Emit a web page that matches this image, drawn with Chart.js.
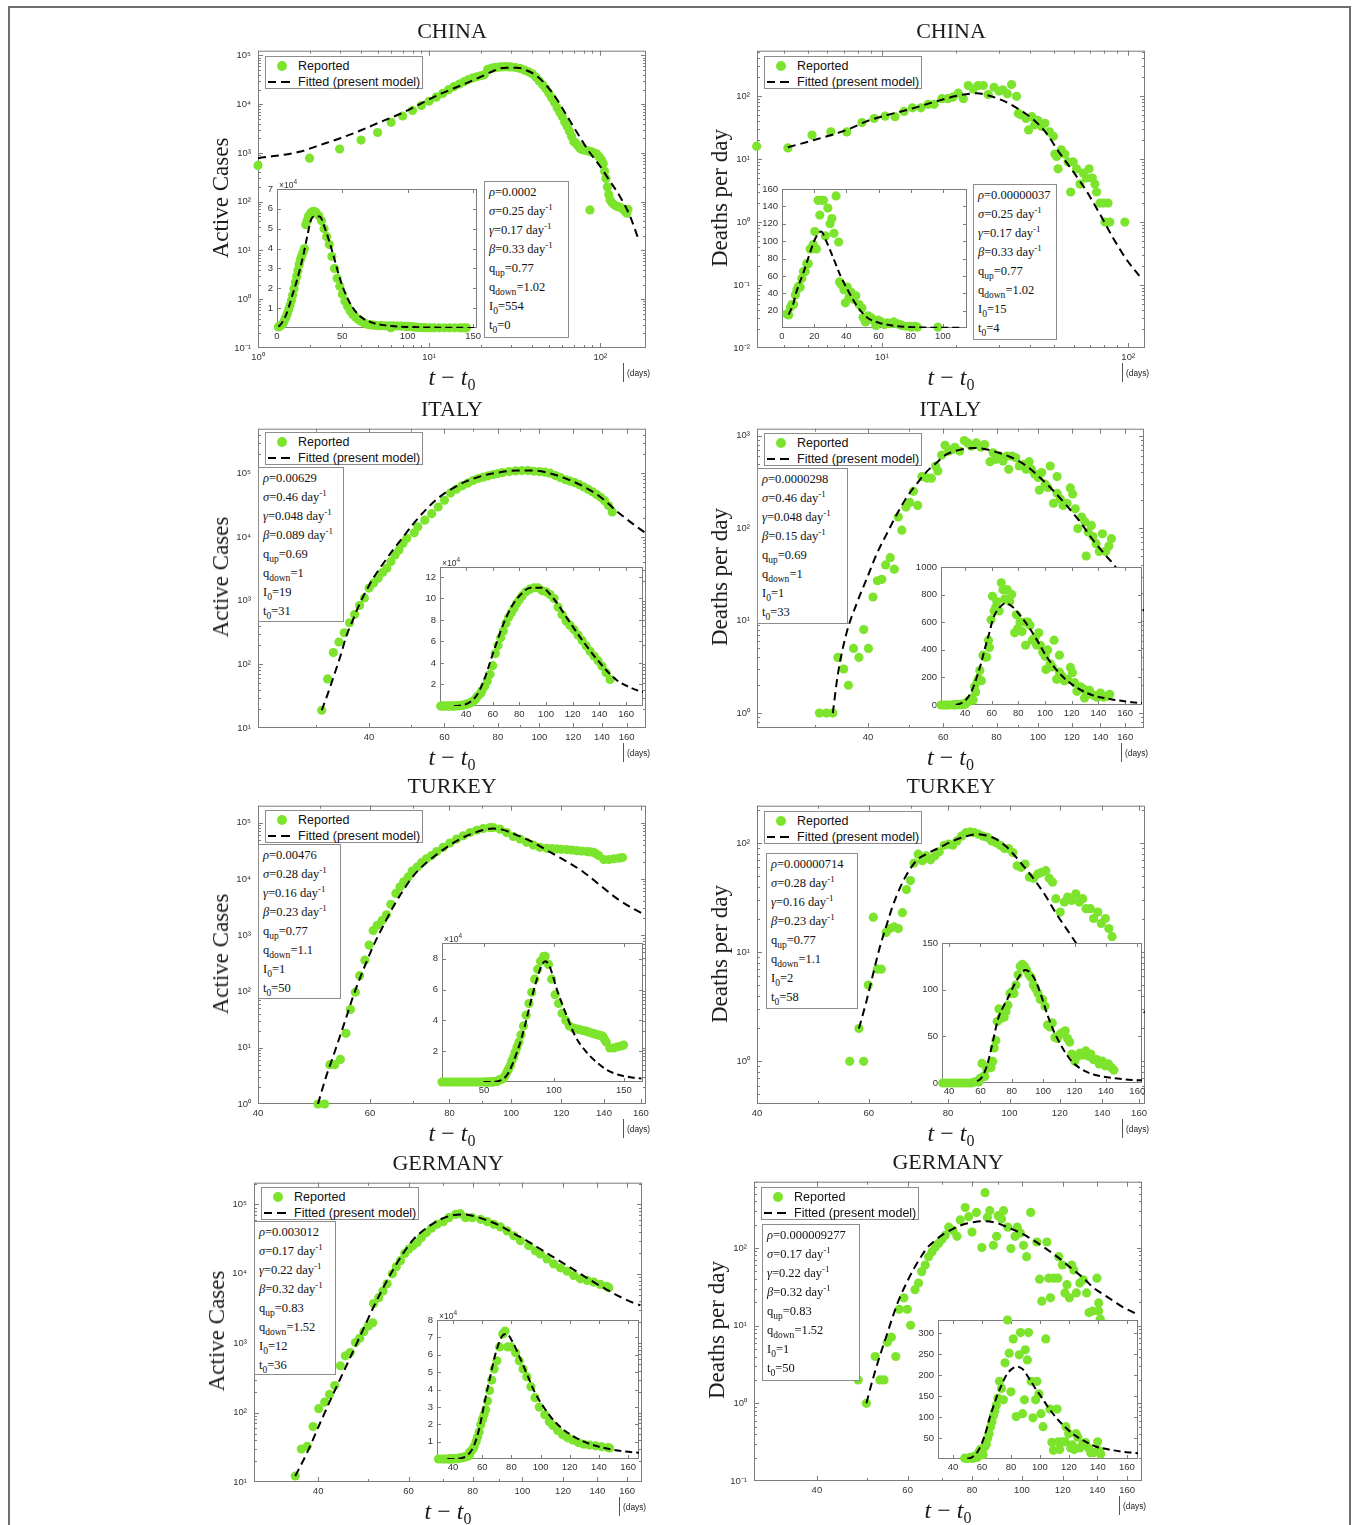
<!DOCTYPE html>
<html>
<head>
<meta charset="utf-8">
<title>Reported vs fitted: China, Italy, Turkey, Germany</title>
<script src="https://cdn.jsdelivr.net/npm/chart.js"></script>
<style>
  body { margin: 0; background: #fff; }
  #page { position: relative; width: 1356px; height: 1525px; overflow: hidden; }
  #frame { position: absolute; left: 8px; top: 6px; width: 1343px; height: 1560px; border: 2px solid #6e6e6e; box-sizing: border-box; }
  canvas { position: absolute; }
  .txt { position: absolute; transform: translate(-50%, -50%); white-space: nowrap; color: #1c1c1c; font-family: 'Liberation Serif', 'Times New Roman', serif; }
  .ttl { font-size: 22px; }
  .ylab { font-size: 23px; transform: translate(-50%, -50%) rotate(-90deg); }
  .xlab { font-size: 24px; }
  .xlab sub { font-size: 16px; font-style: normal; vertical-align: -5px; line-height: 0; }
  .legend { position: absolute; width: 158px; height: 33px; background: #fff; border: 1px solid #8c8c8c; box-sizing: border-box; font: 12.5px 'Liberation Sans', Arial, sans-serif; color: #111; }
  .legend .dot { position: absolute; left: 11px; top: 4px; width: 10px; height: 10px; border-radius: 50%; }
  .legend .dash { position: absolute; top: 24px; width: 8px; height: 2px; background: #000; }
  .legend .lt { position: absolute; left: 32px; line-height: 14px; }
  .params { position: absolute; background: #fff; border: 1px solid #8c8c8c; box-sizing: border-box; padding: 1px 0 0 4px; font: 12.5px 'Liberation Serif', 'Times New Roman', serif; line-height: 19px; color: #111; white-space: nowrap; }
  .params div { height: 19px; }
  .params sub { font-size: 9.5px; vertical-align: -4px; line-height: 0; }
  .params sup { font-size: 9px; vertical-align: 5px; line-height: 0; }
  .days { position: absolute; font: 8.3px 'Liberation Sans', Arial, sans-serif; color: #222; transform: translateY(-50%); }
  .vbar { position: absolute; width: 1px; height: 19px; background: #555; }
  .expo { position: absolute; font: 8.5px 'Liberation Sans', Arial, sans-serif; color: #333; transform: translateY(-50%); }
</style>
</head>
<body>
<div id="page"><div id="frame"></div></div>
<script>
// ---------- data ----------
// China, active cases
const chinaCasesDay = [1,2,3,4,5,6,7,8,9,10,11,12,13,14,15,16,17,18,19,20,21,22,23,24,25,26,27,28,29,30,32,34,36,38,40,42,44,46,48,50,52,54,56,58,60,62,64,66,68,70,72,74,76,78,80,83,86,89,92,95,98,100,102,104,106,108,110,112,114,117,120,124,128,132,136,140,143,145,87];
const chinaCasesVal = [554,780,1205,1836,2624,4250,5720,7450,9400,11500,13900,16600,19800,23000,25900,28900,32000,34600,36500,38300,40000,52000,54000,56000,57000,58000,58500,58800,58500,58000,56500,54000,50000,46000,42000,36000,30000,25000,21000,17000,13500,11000,8500,6800,5500,4300,3500,2800,2200,1700,1600,1400,1250,1180,1150,1120,1090,1050,1000,960,850,780,700,600,420,300,200,140,110,95,88,82,78,75,70,62,58,70,68];
const chinaCasesFitDay = [1,1.75,2.3,3,4,5.2,6.8,8.9,11.6,15.2,20,23.7,26,28.5,32.6,37,42.5,48.6,55.6,63.6,72.8,80,87.4,100,114,130,149,167];
const chinaCasesFitVal = [780,1060,1450,1980,2920,4320,6370,10200,16200,23900,36300,48000,54500,56200,56200,49600,38100,23900,12800,5890,2700,1570,985,528,262,130,51,17.2];
const chinaCasesParams = ['0.0002','0.25','0.17','0.33','0.77','1.02','554','0'];

// China, deaths per day
const chinaDeathDay = [3.1,4.15,5.2,6.2,7.2,8.3,9.3,10.3,11.3,12.3,13.3,14.4,15.4,16.3,17.5,18.5,19.4,20.4,21.4,22.4,23.5,24.6,25.8,27,28.5,29.9,31,32.3,33.6,35.2,35.8,36.9,38.5,39.4,40.6,41.7,43,44.5,45.9,47.9,49.7,50.4,51.2,51.9,53.5,55.3,57,58.4,59.8,61.7,63.7,65.6,67.7,69.4,71.5,73.2,74.4,76.8,79.4,82.8,80.5,84.2,96.9];
const chinaDeathVal = [16,15,24,27,27,38,44,48,47,57,65,65,74,74,91,91,96,111,91,147,130,147,147,106,138,120,126,109,152,99,53,50,44,29,47,35,41,33,37,27,23,12,11,7,14,12,9,3,9,7,4,6,5,7,5,4,3,2,2,2,1,1,1];
const chinaDeathFitDay = [4.15,5.2,7.2,8.7,10.5,13,16.2,20.7,24.3,27.5,32,36.4,41.2,46.6,52.7,59.8,67.7,76.8,86.8,98,111];
const chinaDeathFitVal = [15.4,19.6,29,40,50,62,80,103,111,100,80,60,42.5,25.5,12.4,6.3,3.1,1.33,0.56,0.26,0.14];
const chinaDeathParams = ['0.00000037','0.25','0.17','0.33','0.77','1.02','15','4'];

// Italy, active cases
const italyCasesDay = [21,22,23,24,25,26,27,28,29,30,31,32,33,34,35,36,37,38,39,40,41,42,43,44,45,46,47,48,49,51,52,54,56,58,60,62,64,66,68,70,72,74,76,78,80,82,85,88,91,94,97,100,103,106,109,112,115,118,121,124,127,130,133,136,139,142,145,148];
const italyCasesVal = [0,0,0,0,0,0,0,0,0,0,19,59,153,224,313,449,605,836,1100,1575,1885,2250,2765,3230,4100,5210,6240,7940,9490,11600,14400,18300,23200,29500,37500,48800,56200,63500,69800,76900,82600,86700,90900,95300,98800,102400,106200,108700,110000,110000,107400,106200,103700,100000,92000,85000,79000,75000,71000,66000,61000,56000,51000,46500,42000,37000,31000,24700];
const italyCasesFitDay = [31,31.9,33.1,34.3,35.4,36.7,38.1,39.5,40.9,43.2,45.5,48.1,50.8,54.6,58.7,63,67.6,74,81,88.6,96.8,105.6,115.8,126.7,138.9,152.4,166.9,177.5];
const italyCasesFitVal = [19,32,66,136,278,505,920,1480,2250,3860,6240,10070,16200,27800,43300,59000,75000,92000,103700,110000,110000,100000,81600,62000,42300,24700,15300,11350];
const italyCasesParams = ['0.00629','0.46','0.048','0.089','0.69','1','19','31'];

// Italy, deaths per day
const italyDeathDay = [22,24,26,28,30.8,32,33.1,34,35.1,36,37,38.1,39.1,40.1,41.1,42.1,43.1,44,45.1,46.1,47.1,48,49.1,50.1,51.1,52.3,53.5,55,56.3,57.6,58.3,59.5,60.6,61.8,63,63.9,65.6,67.2,68.5,69.8,71.7,73.5,75,77.2,78.5,79.6,81.2,82.8,84.5,85.4,87,88.7,90.4,92.6,93.8,95.3,96.5,98.3,100.1,100.7,102,103.9,105.4,106.8,108.7,110.8,110.8,112.8,114.4,116.9,119,120.5,122.2,123.9,126.5,128.7,129.6,131,133.3,134.4,136.7,139.1,141.5,144,146.5,148.5];
const italyDeathVal = [0,0,0,0,1,1,1,4,3,2,5,4,8,5,18,27,28,40,48,36,132,95,169,190,250,176,361,347,347,470,416,617,788,681,708,750,681,885,836,769,836,750,801,523,654,554,601,532,601,433,601,577,470,489,433,523,433,383,353,258,399,299,276,470,186,238,361,207,176,186,272,234,162,99,132,117,50,91,107,81,68,56,87,56,64,77];
const italyDeathFitDay = [33.1,34,35.6,37.7,39.8,42,44.3,46.8,49.3,52.1,54.9,57.9,61.1,66,70.5,76,81,87,94,101,108.6,116.6,125.4,134.6,145,151.6,165,177];
const italyDeathFitVal = [1,2.6,7.2,15.6,28.9,53.5,87.5,143,216,304,409,511,627,708,738,708,653,577,470,353,254,176,117,74,49,38.5,20,12.7];
const italyDeathParams = ['0.0000298','0.46','0.048','0.15','0.69','1','1','33'];

// Turkey, active cases
const turkeyCasesDay = [20,22,24,26,28,30,32,34,36,38,40,42,44,46,48,49.7,50.9,51.9,52.8,53.9,55,55.9,56.9,57.8,58.9,59.8,60.7,61.6,62.7,63.7,64.7,65.9,66.9,67.8,68.9,69.9,71.2,72.3,73.6,75,76.4,78.2,80.1,82.1,84.1,86.2,88.3,90.4,92.6,93.7,96.1,98.4,100.8,103.3,105.8,108.4,111,113.8,116,118,120,122.4,124.6,126.9,129.2,131.6,133.2,134.8,136,137.3,139.9,142.5,145.1,147.9,149.7];
const turkeyCasesVal = [0,0,0,0,0,0,0,0,0,0,0,0,0,0,0,1,1,5,5,6.2,18,47.6,97,191,360,668,1208,1497,1832,2305,3545,5530,7240,8860,10830,13800,16200,19400,22800,26000,30600,36400,43400,51000,58300,66800,73300,78500,81600,81600,76400,66800,56700,51000,44600,40000,36400,35000,34500,34100,33600,33200,32500,31800,31200,30600,30200,29800,28000,26000,22100,22100,22800,23400,24000];
const turkeyCasesFitDay = [49.7,51.2,52.5,53.8,55.1,56.4,57.8,59.2,60.7,62.9,65.3,67.7,70.2,72.8,75.4,79.2,83.1,87.2,91.5,93.8,97.2,102.1,108.4,115.2,122.3,129.9,138,146.6,155.8,162.5];
const turkeyCasesFitVal = [1,3.1,7,15.8,35.5,79.5,167,327,641,1440,3230,6310,11300,17400,24300,36400,51000,65000,76400,78500,74300,60000,44600,29800,20400,13300,7740,4520,2940,2300];
const turkeyCasesParams = ['0.00476','0.28','0.16','0.23','0.77','1.1','1','50'];

// Turkey, deaths per day
const turkeyDeathDay = [36,38,40,42,44,46,48,50,52,54,56,58.9,57.9,59.9,61,61.9,62.8,63.9,64.8,65.8,66.8,67.8,68.8,69.8,70.7,71.8,72.9,73.9,75.1,76.3,77.5,78.9,80.2,81.4,82.6,84,85.4,86.7,88,89.4,90.9,92.3,93.7,95.2,96.7,98.2,99.6,101.2,102.8,104.3,105.8,107.5,109.1,110.8,112.4,114.1,115.5,116.9,118.3,120.2,122,123.5,125.3,127.2,128.8,130.4,132,134.1,135.7,137.8,139.5,141.6,143.4,145.1];
const turkeyDeathVal = [0,0,0,0,0,0,0,0,0,0,1,1,2,5,21,7,7,15.2,16.5,17.1,16.5,23.1,37.6,45.5,65.8,79.4,69.2,76.7,70.5,76.7,83.4,95.9,98,95.9,105,116,125,127,125,121,116,113,105,101,95.9,89.5,89.5,82.2,62.2,60.1,64.4,48.8,47.7,52.3,54.1,56,47.7,43.9,31,23.4,28.9,32.1,29.9,34.4,28.9,31,25.1,25.1,20.4,23.4,18.4,20.4,16.5,13.9];
const turkeyDeathFitDay = [57.9,59.5,60.9,62.4,64,65.5,67.1,68.8,71.3,73.9,77.6,81.5,85.5,88.6,91.9,95.3,98.8,102.5,106.3,110.2,114.3,118.5,122.9,127.4,132.1,138.7,147.3,156.5,163.3];
const turkeyDeathFitVal = [2,3.56,6.2,10.9,17.7,26.9,38.2,51.2,69,79.4,91.4,105,116,121,118,109,93.3,74.1,57.3,43.9,32.1,22.6,16.5,12.1,9.1,6.7,4.7,3.3,2.8];
const turkeyDeathParams = ['0.00000714','0.28','0.16','0.23','0.77','1.1','2','58'];

// Germany, active cases
const germanyCasesDay = [30,32,34,36.1,37.1,38.1,39.1,40.1,41.2,42.1,43.1,44.2,45.2,46.2,47.3,48.2,49.1,50.1,51.1,51.3,52.5,53.5,54.5,55.8,56.8,57.9,59,60.1,61.2,62.4,63.6,65,66.5,68.2,70.1,71.9,74.1,75.7,77.5,79.8,82.9,85.4,88,90.6,93.4,96.2,99.1,102.9,106,108.4,111.7,115.1,118.6,122.2,125.9,129.7,133.7,137.7,141.9,146.2,147.3];
const germanyCasesVal = [0,0,0,12.2,29.9,32.7,63,114,142,183,245,474,659,735,1023,1178,1467,1770,1973,3728,4540,5650,7190,10000,12700,15500,19700,22800,25400,28300,33400,39400,45400,51800,56500,64500,71900,73600,64500,64500,61100,56500,51800,47400,41600,35300,29900,25400,21500,19300,16400,13900,12200,10900,9460,8490,8040,7600,7040,6590,6310];
const germanyCasesFitDay = [36.1,38.1,40.4,42.9,45.6,48.4,51.3,54.5,57.9,61.4,65.2,69.3,73.5,76.9,80.4,85.4,90.6,96.2,102.1,108.4,115.1,122.2,129.7,137.7,146.2,155.3,164.8,169.8];
const germanyCasesFitVal = [12.2,26.8,72,193,507,1316,3340,8040,17300,31600,46400,61100,70500,71900,68100,59100,49000,38100,29900,22800,17300,13200,10000,7600,5900,4640,3810,3530];
const germanyCasesParams = ['0.003012','0.17','0.22','0.32','0.83','1.52','12','36'];

// Germany, deaths per day
const germanyDeathDay = [48.1,49.9,51.9,53,54,54.8,55.8,56.9,57.8,59,59.9,60.8,62,63,63.9,64.9,65.9,66.9,67.9,68.9,69.9,71,72.1,73.5,74.8,75.9,77.6,78.8,80,81.6,83.6,84.8,85.7,86.6,88,89.3,89.9,91.3,92.1,93.9,95.2,97,97.9,99.3,100.7,102.1,104,106.9,108.2,109.3,111.8,112.7,113.6,115.3,117.4,117.9,119.8,121.2,122.3,123.6,124.9,126.1,127.5,129.5,131.5,133.5,135,137.1,139.8,140.9,140.9,141.9];
const germanyDeathVal = [2,1,4,2,2,6.1,7.1,4,16.2,22.8,16.2,10.1,29,35.3,49.5,60.2,76.9,89,103,114,128,145,185,168,141,229,331,252,160,286,101,514,248,301,108,141,260,236,301,185,98,141,185,155,108,77,286,119,39.6,20.6,119,40.8,22.8,40.8,40.8,77,60.2,26.3,33.6,22.8,60.2,52,26.3,35.3,38.8,26.3,14.7,15.4,40.8,19.6,15.4,12.1];
const germanyDeathFitDay = [49.9,51.4,53,54.6,56.2,57.9,59.7,61.5,63.4,65.3,67.3,70.3,73.5,76.9,80.5,84.2,88.1,92.1,96.3,100.7,105.3,110.1,115.2,120.4,125.9,131.7,137.8,144.1,150.7,157.6,164.8,168.5];
const germanyDeathFitVal = [1,2.09,4.1,7.4,13.3,22.8,35.3,52,73.2,98,119,149,176,200,214,220,214,194,171,149,125,103,83.2,66.4,52,40.8,30.5,25.1,20.6,17,14.7,13.1];
const germanyDeathParams = ['0.000009277','0.17','0.22','0.32','0.83','1.52','1','50'];

// tick values
const dayTicks = [40, 60, 80, 100, 120, 140, 160];
const chinaCasesXTicks = [1, 10, 100];
const chinaCasesYTicks = [0.1, 1, 10, 100, 1e3, 1e4, 1e5];
const chinaDeathXTicks = [10, 100];
const chinaDeathYTicks = [0.01, 0.1, 1, 10, 100];
const italyCasesYTicks = [10, 100, 1e3, 1e4, 1e5];
const italyDeathYTicks = [1, 10, 100, 1000];
const turkeyCasesYTicks = [1, 10, 100, 1e3, 1e4, 1e5];
const turkeyDeathYTicks = [1, 10, 100];
const germanyCasesYTicks = [10, 100, 1e3, 1e4, 1e5];
const germanyDeathYTicks = [0.1, 1, 10, 100];
const chinaCasesInsetX = [0, 50, 100, 150];
const chinaCasesInsetY = [1e4, 2e4, 3e4, 4e4, 5e4, 6e4, 7e4];
const chinaDeathInsetX = [0, 20, 40, 60, 80, 100];
const chinaDeathInsetY = [20, 40, 60, 80, 100, 120, 140, 160];
const italyCasesInsetY = [2e4, 4e4, 6e4, 8e4, 10e4, 12e4];
const italyDeathInsetY = [0, 200, 400, 600, 800, 1000];
const turkeyCasesInsetX = [50, 100, 150];
const turkeyCasesInsetY = [2e4, 4e4, 6e4, 8e4];
const turkeyDeathInsetY = [0, 50, 100, 150];
const germanyCasesInsetY = [1e4, 2e4, 3e4, 4e4, 5e4, 6e4, 7e4, 8e4];
const germanyDeathInsetY = [50, 100, 150, 200, 250, 300];

// ---------- layout ----------
const GREEN = '#7de42d';
const SUP = { '-': '⁻', '0': '⁰', '1': '¹', '2': '²', '3': '³', '4': '⁴', '5': '⁵', '6': '⁶', '7': '⁷', '8': '⁸', '9': '⁹' };
const pow10 = v => '10' + String(Math.round(Math.log10(v))).split('').map(c => SUP[c]).join('');
const plain = v => String(v);
const per1e4 = v => String(v / 1e4);

const panels = [
  { title: 'CHINA', ylab: 'Active Cases', box: [258, 48, 646, 348], xr: [1, 185], yr: [0.1, 1.25e5],
    xt: chinaCasesXTicks, yt: chinaCasesYTicks, xfmt: pow10,
    days: chinaCasesDay, vals: chinaCasesVal, fd: chinaCasesFitDay, fv: chinaCasesFitVal,
    leg: [265, 56], par: [484, 181, 85, 157], pv: chinaCasesParams,
    ibox: [277, 189, 477, 328], ixr: [0, 153], iyr: [0, 70000], ixt: chinaCasesInsetX, iyt: chinaCasesInsetY, iyfmt: per1e4 },
  { title: 'CHINA', ylab: 'Deaths per day', box: [757, 48, 1145, 348], xr: [3.11, 117], yr: [0.01, 525],
    xt: chinaDeathXTicks, yt: chinaDeathYTicks, xfmt: pow10,
    days: chinaDeathDay, vals: chinaDeathVal, fd: chinaDeathFitDay, fv: chinaDeathFitVal,
    leg: [764, 56], par: [973, 184, 84, 156], pv: chinaDeathParams,
    ibox: [782, 189, 967, 328], ixr: [0, 115], iyr: [0, 160], ixt: chinaDeathInsetX, iyt: chinaDeathInsetY, iyfmt: plain },
  { title: 'ITALY', ylab: 'Active Cases', box: [258, 426, 646, 728], xr: [22, 177.5], yr: [10, 5e5],
    xt: dayTicks, yt: italyCasesYTicks, xfmt: plain,
    days: italyCasesDay, vals: italyCasesVal, fd: italyCasesFitDay, fv: italyCasesFitVal,
    leg: [265, 432], par: [258, 467, 86, 155], pv: italyCasesParams,
    ibox: [440, 567, 643, 706], ixr: [20.5, 172.7], iyr: [0, 129300], ixt: dayTicks, iyt: italyCasesInsetY, iyfmt: per1e4 },
  { title: 'ITALY', ylab: 'Deaths per day', box: [757, 426, 1144, 728], xr: [22, 177], yr: [0.69, 1190],
    xt: dayTicks, yt: italyDeathYTicks, xfmt: plain,
    days: italyDeathDay, vals: italyDeathVal, fd: italyDeathFitDay, fv: italyDeathFitVal,
    leg: [764, 433], par: [757, 468, 91, 156], pv: italyDeathParams,
    ibox: [941, 567, 1142, 705], ixr: [22, 172.7], iyr: [0, 1000], ixt: dayTicks, iyt: italyDeathInsetY, iyfmt: plain },
  { title: 'TURKEY', ylab: 'Active Cases', box: [258, 803, 646, 1104], xr: [40, 163], yr: [1, 2e5],
    xt: dayTicks, yt: turkeyCasesYTicks, xfmt: plain,
    days: turkeyCasesDay, vals: turkeyCasesVal, fd: turkeyCasesFitDay, fv: turkeyCasesFitVal,
    leg: [265, 810], par: [258, 844, 83, 155], pv: turkeyCasesParams,
    ibox: [442, 943, 643, 1082], ixr: [20, 163.6], iyr: [0, 90300], ixt: turkeyCasesInsetX, iyt: turkeyCasesInsetY, iyfmt: per1e4 },
  { title: 'TURKEY', ylab: 'Deaths per day', box: [757, 803, 1145, 1104], xr: [40, 163.5], yr: [0.406, 221],
    xt: dayTicks, yt: turkeyDeathYTicks, xfmt: plain,
    days: turkeyDeathDay, vals: turkeyDeathVal, fd: turkeyDeathFitDay, fv: turkeyDeathFitVal,
    leg: [764, 811], par: [766, 853, 92, 156], pv: turkeyDeathParams,
    ibox: [942, 943, 1142, 1083], ixr: [35.5, 163], iyr: [0, 150], ixt: dayTicks, iyt: turkeyDeathInsetY, iyfmt: plain },
  { title: 'GERMANY', ylab: 'Active Cases', box: [254, 1180, 642, 1482], xr: [30, 171], yr: [10, 2.06e5],
    xt: dayTicks, yt: germanyCasesYTicks, xfmt: plain,
    days: germanyCasesDay, vals: germanyCasesVal, fd: germanyCasesFitDay, fv: germanyCasesFitVal,
    leg: [261, 1187], par: [254, 1221, 82, 154], pv: germanyCasesParams,
    ibox: [437, 1320, 639, 1459], ixr: [29, 167.5], iyr: [0, 80000], ixt: dayTicks, iyt: germanyCasesInsetY, iyfmt: per1e4 },
  { title: 'GERMANY', ylab: 'Deaths per day', box: [754, 1179, 1142, 1481], xr: [30.2, 171], yr: [0.1, 711],
    xt: dayTicks, yt: germanyDeathYTicks, xfmt: plain,
    days: germanyDeathDay, vals: germanyDeathVal, fd: germanyDeathFitDay, fv: germanyDeathFitVal,
    leg: [761, 1187], par: [762, 1224, 98, 157], pv: germanyDeathParams,
    ibox: [938, 1320, 1138, 1459], ixr: [29.7, 167.6], iyr: [0, 331], ixt: dayTicks, iyt: germanyDeathInsetY, iyfmt: plain }
];

const page = document.getElementById('page');
const TICK_FONT = { family: "'Liberation Sans', Arial, sans-serif", size: 9.5 };

function minorValues(min, max) {
  const out = [];
  for (let e = Math.floor(Math.log10(min)); e <= Math.ceil(Math.log10(max)); e++)
    for (let k = 2; k < 10; k++) {
      const v = k * Math.pow(10, e);
      if (v > min && v < max) out.push(v);
    }
  return out;
}

// box round the axes and inward ticks on all four sides (matlab style)
const boxTicks = {
  id: 'boxTicks',
  beforeDatasetsDraw(chart, args, o) {
    const { ctx, chartArea: a } = chart;
    ctx.save();
    if (o.fill) {
      ctx.fillStyle = '#fff';
      ctx.fillRect(a.left, a.top, a.right - a.left, a.bottom - a.top);
    }
    ctx.strokeStyle = '#7c7c7c';
    ctx.lineWidth = 1;
    ctx.beginPath();
    const mark = (sc, v, len) => {
      const p = Math.round(sc.getPixelForValue(v)) + 0.5;
      if (sc.isHorizontal()) {
        if (p < a.left || p > a.right) return;
        ctx.moveTo(p, a.bottom); ctx.lineTo(p, a.bottom - len);
        ctx.moveTo(p, a.top); ctx.lineTo(p, a.top + len);
      } else {
        if (p < a.top || p > a.bottom) return;
        ctx.moveTo(a.left, p); ctx.lineTo(a.left + len, p);
        ctx.moveTo(a.right, p); ctx.lineTo(a.right - len, p);
      }
    };
    [chart.scales.x, chart.scales.y].forEach(sc => {
      if (sc.type === 'logarithmic' && o.minor) minorValues(sc.min, sc.max).forEach(v => mark(sc, v, o.minor));
      sc.ticks.forEach(t => mark(sc, t.value, o.major));
    });
    ctx.stroke();
    ctx.strokeRect(a.left + 0.5, a.top + 0.5, a.right - a.left - 1, a.bottom - a.top - 1);
    ctx.restore();
  }
};

function axisOpts(type, pos, range, ticks, fmt, pad, fit) {
  return {
    type, position: pos, min: range[0], max: range[1], bounds: 'data',
    afterBuildTicks: s => { s.ticks = ticks.map(v => ({ value: v })); },
    afterFit: fit,
    grid: { display: false, drawTicks: false },
    border: { display: false },
    ticks: { callback: fmt, padding: pad, font: TICK_FONT, color: '#333', maxRotation: 0, minRotation: 0, autoSkip: false }
  };
}

function makeCanvas(l, t, w, h) {
  const c = document.createElement('canvas');
  c.width = w; c.height = h;
  c.style.left = l + 'px'; c.style.top = t + 'px';
  c.style.width = w + 'px'; c.style.height = h + 'px';
  page.appendChild(c);
  return c;
}

const pairs = (xs, ys) => xs.map((x, i) => ({ x, y: ys[i] }));

function drawChart(box, pad, pts, fit, xo, yo, deco, dash) {
  const [l, t, r, b] = box;
  const cv = makeCanvas(l - pad.l, t - pad.t, r - l + pad.l + pad.r, b - t + pad.t + pad.b);
  return new Chart(cv, {
    type: 'scatter',
    data: {
      datasets: [
        { label: 'Fitted (present model)', data: fit, showLine: true, pointRadius: 0, borderColor: '#000',
          borderWidth: 2, borderDash: dash, cubicInterpolationMode: 'monotone', order: 0 },
        { label: 'Reported', data: pts, pointRadius: 4.6, pointHoverRadius: 4.6, backgroundColor: GREEN,
          borderWidth: 0, clip: 6, order: 1 }
      ]
    },
    options: {
      responsive: false, animation: false, devicePixelRatio: 1,
      layout: { padding: { left: 0, top: pad.t, right: pad.r, bottom: 0 } },
      plugins: { legend: { display: false }, tooltip: { enabled: false }, boxTicks: deco },
      scales: {
        x: axisOpts(xo.type, 'bottom', xo.range, xo.ticks, xo.fmt, xo.pad, s => { s.height = pad.b; }),
        y: axisOpts(yo.type, 'left', yo.range, yo.ticks, yo.fmt, yo.pad, s => { s.width = pad.l; })
      }
    },
    plugins: [boxTicks]
  });
}

function addText(cls, x, y, html) {
  const d = document.createElement('div');
  d.className = 'txt ' + cls;
  d.style.left = x + 'px'; d.style.top = y + 'px';
  d.innerHTML = html;
  page.appendChild(d);
}

function addDiv(cls, css, html) {
  const d = document.createElement('div');
  d.className = cls;
  Object.assign(d.style, css);
  if (html) d.innerHTML = html;
  page.appendChild(d);
  return d;
}

function paramHtml(v) {
  return [
    `<i>ρ</i>=${v[0]}`,
    `<i>σ</i>=${v[1]} day<sup>-1</sup>`,
    `<i>γ</i>=${v[2]} day<sup>-1</sup>`,
    `<i>β</i>=${v[3]} day<sup>-1</sup>`,
    `q<sub>up</sub>=${v[4]}`,
    `q<sub>down</sub>=${v[5]}`,
    `I<sub>0</sub>=${v[6]}`,
    `t<sub>0</sub>=${v[7]}`
  ].map(s => `<div>${s}</div>`).join('');
}

panels.forEach(p => {
  const [l, t, r, b] = p.box;
  const all = pairs(p.days, p.vals);
  const fit = pairs(p.fd, p.fv);

  // main log-log panel
  drawChart(p.box, { l: 50, r: 12, t: 10, b: 20 }, all.filter(q => q.y > 0), fit,
    { type: 'logarithmic', range: p.xr, ticks: p.xt, fmt: p.xfmt, pad: 4 },
    { type: 'logarithmic', range: p.yr, ticks: p.yt, fmt: pow10, pad: 7 },
    { fill: false, major: 5, minor: 3 }, [8, 5]);

  // linear inset
  drawChart(p.ibox, { l: 32, r: 12, t: 10, b: 16 }, all, fit,
    { type: 'linear', range: p.ixr, ticks: p.ixt, fmt: plain, pad: 3 },
    { type: 'linear', range: p.iyr, ticks: p.iyt, fmt: p.iyfmt, pad: 4 },
    { fill: true, major: 4, minor: 0 }, [7, 4]);
  if (p.iyfmt === per1e4)
    addDiv('expo', { left: (p.ibox[0] + 2) + 'px', top: (p.ibox[1] - 5) + 'px' }, '×10<sup style="font-size:6.5px">4</sup>');

  // legend
  addDiv('legend', { left: p.leg[0] + 'px', top: p.leg[1] + 'px' },
    `<span class="dot" style="background:${GREEN}"></span><span class="lt" style="top:2px">Reported</span>` +
    `<span class="dash" style="left:2px"></span><span class="dash" style="left:15px;width:9px"></span>` +
    `<span class="lt" style="top:18px">Fitted (present model)</span>`);

  // fitted parameters
  addDiv('params', { left: p.par[0] + 'px', top: p.par[1] + 'px', width: p.par[2] + 'px', height: p.par[3] + 'px' }, paramHtml(p.pv));

  // titles and axis labels
  const cx = (l + r) / 2;
  addText('ttl', cx, t - 17, p.title);
  addText('ylab', l - 37, (t + b) / 2, p.ylab);
  addText('xlab', cx, b + 29, '<i>t</i>&nbsp;−&nbsp;<i>t</i><sub>0</sub>');
  addDiv('vbar', { left: (r - 23) + 'px', top: (b + 15) + 'px' });
  addDiv('days', { left: (r - 19) + 'px', top: (b + 25) + 'px' }, '(days)');
});
</script>
</body>
</html>
